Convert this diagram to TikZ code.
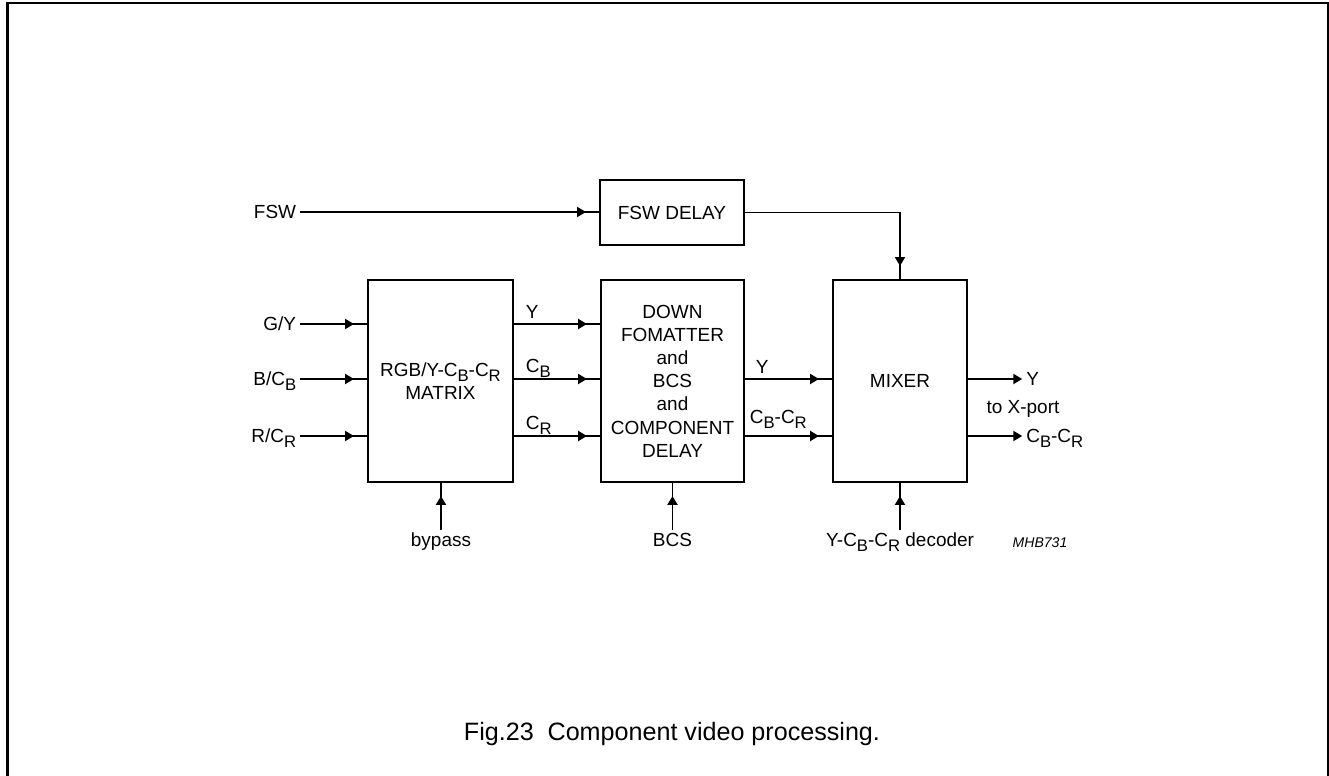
\documentclass[tikz,border=0pt]{standalone}
\usepackage{fontspec}
\setmainfont{Liberation Sans}
\usetikzlibrary{arrows.meta,decorations.markings}
\newcommand{\lsub}[1]{\raisebox{-0.5ex}{\fontsize{9.5}{10}\selectfont #1}}

\begin{document}
\begin{tikzpicture}[x=0.02cm, y=-0.02cm]
    \tikzstyle{every node}=[font=\fontsize{10.8}{13.2}\selectfont, inner sep=2pt]
    \tikzstyle{block}=[draw, line width=1.3pt, align=center, minimum width=2.88cm, minimum height=1.3cm]
    \tikzstyle{port}=[text height=0.72em, text depth=0pt]
    \tikzstyle{sig}=[line width=0.75pt, decoration={markings, mark=at position -7.4pt with {\arrow{Triangle[length=5pt,width=5.8pt]}}}, postaction={decorate}]
    \tikzstyle{tip}=[line width=0.75pt, -{Triangle[length=5pt,width=5.8pt]}]

    \useasboundingbox (0,0) rectangle (1329,776);
    \draw[line width=1.3pt] (7.5,780) |- (1328,2.7) -- (1328,780);

% The blocks of the component video path, signals enter from the left and the bottom.

    \node[block] (fswd) at (672,212.5) {FSW DELAY};
    \node[block, minimum width=2.9cm, minimum height=4.04cm] (mat) at (440.5,381) {RGB/Y-C\lsub{B}-C\lsub{R}\\MATRIX};
    \node[block, minimum width=2.86cm, minimum height=4.04cm] (dwn) at (672.5,381) {DOWN\\FOMATTER\\and\\BCS\\and\\COMPONENT\\DELAY};
    \node[block, minimum width=2.68cm, minimum height=4.04cm] (mix) at (900,381) {MIXER};

    \node[port, anchor=east] (fsw) at (300,212) {FSW};
    \node[port, anchor=east] (gy) at (300,324) {G/Y};
    \node[port, anchor=east] (bcb) at (300,379) {B/C\lsub{B}};
    \node[port, anchor=east] (rcr) at (300,436) {R/C\lsub{R}};

    \draw[sig] (fsw) -- (fsw -| fswd.west);
    \draw[sig] (gy) -- (gy -| mat.west);
    \draw[sig] (bcb) -- (bcb -| mat.west);
    \draw[sig] (rcr) -- (rcr -| mat.west);

    \draw[sig] (mat.east |- gy) -- (dwn.west |- gy);
    \draw[sig] (mat.east |- bcb) -- (dwn.west |- bcb);
    \draw[sig] (mat.east |- rcr) -- (dwn.west |- rcr);
    \node[port, anchor=south west] (my) at (522,322) {Y};
    \node[port, anchor=south west] (mcb) at (522,376) {C\lsub{B}};
    \node[port, anchor=south west] (mcr) at (522,433) {C\lsub{R}};

    \draw[sig] (dwn.east |- bcb) -- (mix.west |- bcb);
    \draw[sig] (dwn.east |- rcr) -- (mix.west |- rcr);
    \node[port, anchor=south west] (dy) at (752,377.5) {Y};
    \node[port, anchor=south west] (dcbcr) at (746,427.5) {C\lsub{B}-C\lsub{R}};

    \draw[sig] (fswd.east) -| (mix.north);

    \draw[tip] (mix.east |- bcb) -- ++(54,0) node[port, right] (oy) {Y};
    \draw[tip] (mix.east |- rcr) -- ++(54,0) node[port, right] (ocbcr) {C\lsub{B}-C\lsub{R}};
    \node (xport) at (1023,409) {to X-port};

    \node[port, anchor=north] (byp) at (441,530) {bypass};
    \node[port, anchor=north] (bcs) at (672.5,530) {BCS};
    \node[port, anchor=north] (dec) at (900,530) {Y-C\lsub{B}-C\lsub{R} decoder};
    \draw[sig] (byp.north) -- (byp.north |- mat.south);
    \draw[sig] (bcs.north) -- (bcs.north |- dwn.south);
    \draw[sig] (dec.north) -- (dec.north |- mix.south);

    \node[font=\fontsize{8}{9}\selectfont\itshape] (code) at (1040,543) {MHB731};
    \node[font=\fontsize{14.3}{16}\selectfont] (cap) at (672,734) {Fig.23\hspace{0.55em}Component video processing.};

\end{tikzpicture}
\end{document}
